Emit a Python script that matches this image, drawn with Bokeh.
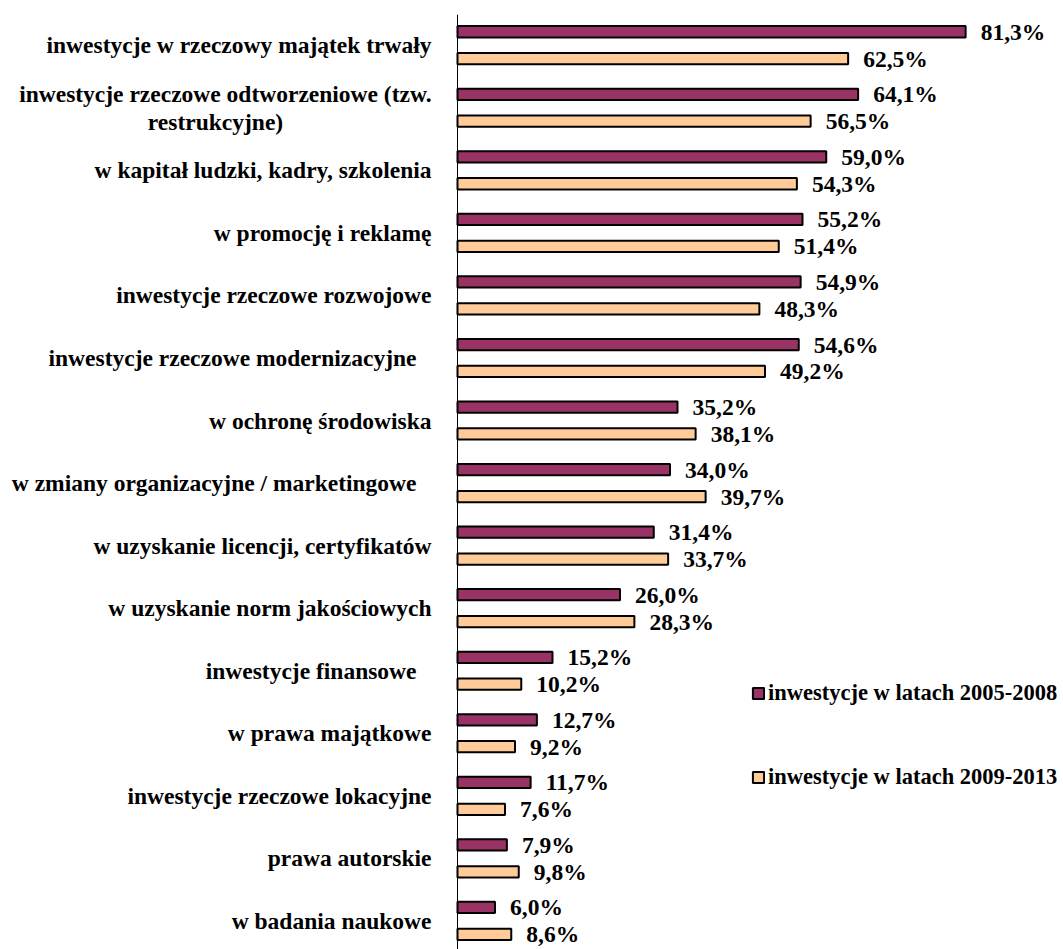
from bokeh.plotting import figure
from bokeh.models import Range1d, Span, Legend, LegendItem, ColumnDataSource
from bokeh.core.properties import value
from bokeh.embed import file_html
from bokeh.resources import INLINE

categories = [
    "inwestycje w rzeczowy majątek trwały",
    "inwestycje rzeczowe odtworzeniowe (tzw.\nrestrukcyjne)",
    "w kapitał ludzki, kadry, szkolenia",
    "w promocję i reklamę",
    "inwestycje rzeczowe rozwojowe",
    "inwestycje rzeczowe modernizacyjne ",
    "w ochronę środowiska",
    "w zmiany organizacyjne / marketingowe ",
    "w uzyskanie licencji, certyfikatów",
    "w uzyskanie norm jakościowych",
    "inwestycje finansowe ",
    "w prawa majątkowe",
    "inwestycje rzeczowe lokacyjne",
    "prawa autorskie",
    "w badania naukowe",
]
series_names = ["inwestycje w latach 2005-2008", "inwestycje w latach 2009-2013"]
values_2005_2008 = [81.3, 64.1, 59.0, 55.2, 54.9, 54.6, 35.2, 34.0, 31.4, 26.0, 15.2, 12.7, 11.7, 7.9, 6.0]
values_2009_2013 = [62.5, 56.5, 54.3, 51.4, 48.3, 49.2, 38.1, 39.7, 33.7, 28.3, 10.2, 9.2, 7.6, 9.8, 8.6]

FONT_NAME = "Liberation Serif"
FONT = value(FONT_NAME)
FSIZE = "23.5px"
LEG_FSIZE = "22.5px"
PURPLE = "#993366"
PEACH = "#FFCC99"

n = len(categories)
ypos = [-i for i in range(n)]
off = 0.215
bar_h = 0.18
PX_PER_UNIT_Y = 62.55

p = figure(width=1063, height=949, output_backend="svg", toolbar_location=None,
           x_range=Range1d(-73.12, 96.96), y_range=Range1d(-14.457, 0.4908),
           x_axis_location=None, y_axis_location=None,
           min_border_left=0, min_border_right=0, min_border_top=14, min_border_bottom=0)
p.outline_line_color = None
p.xgrid.visible = False
p.ygrid.visible = False

fmt = lambda v: f"{v:.1f}".replace(".", ",") + "%"

s1 = ColumnDataSource(dict(y=[y + off for y in ypos], v=values_2005_2008, t=[fmt(v) for v in values_2005_2008]))
s2 = ColumnDataSource(dict(y=[y - off for y in ypos], v=values_2009_2013, t=[fmt(v) for v in values_2009_2013]))

r1 = p.hbar(y="y", left=0, right="v", height=bar_h, source=s1, fill_color=PURPLE, line_color="black", line_width=2)
r2 = p.hbar(y="y", left=0, right="v", height=bar_h, source=s2, fill_color=PEACH, line_color="black", line_width=2)

for s in (s1, s2):
    p.text(x="v", y="y", text="t", source=s, x_offset=15, y_offset=0, text_align="left", text_baseline="middle",
           text_font=FONT, text_font_style="bold", text_font_size=FSIZE, text_color="black")

p.add_layout(Span(location=0, dimension="height", line_color="black", line_width=1))

# category labels (drawn as text left of the axis)
lab_y, lab_t, lab_xo, lab_al = [], [], [], []
for i, cat in enumerate(categories):
    if "\n" in cat:
        l1, l2 = cat.split("\n")
        d = 14 / PX_PER_UNIT_Y
        lab_y += [ypos[i] + d, ypos[i] - d]
        lab_t += [l1, l2]
        lab_xo += [-26, -242]
        lab_al += ["right", "center"]
    else:
        lab_y.append(ypos[i])
        lab_t.append(cat.strip())
        lab_xo.append(-41 if cat.endswith(" ") else -26)
        lab_al.append("right")
ls = ColumnDataSource(dict(x=[0] * len(lab_y), y=lab_y, t=lab_t, xo=lab_xo, al=lab_al))
p.text(x="x", y="y", text="t", x_offset="xo", text_align="al", source=ls, text_baseline="middle",
       text_font=FONT, text_font_style="bold", text_font_size=FSIZE, text_color="black")

legend = Legend(items=[LegendItem(label=series_names[0], renderers=[r1]),
                       LegendItem(label=series_names[1], renderers=[r2])],
                location=(751, 159), orientation="vertical", glyph_width=14, glyph_height=14,
                label_standoff=3, padding=0, margin=0, spacing=58, border_line_color=None,
                background_fill_alpha=0, label_text_font=FONT_NAME, label_text_font_style="bold",
                label_text_font_size=LEG_FSIZE, label_text_color="black", label_height=14)
p.add_layout(legend, "center")

open("out.html", "w").write(file_html(p, INLINE))
